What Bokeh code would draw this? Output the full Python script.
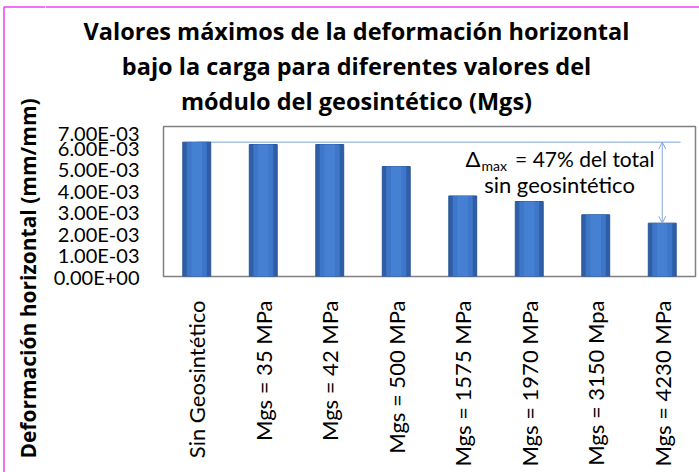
import math
from bokeh.plotting import figure
from bokeh.layouts import row, column
from bokeh.models import FactorRange, Range1d, FixedTicker, Label, Arrow, OpenHead
from bokeh.core.properties import value
from bokeh.embed import file_html
from bokeh.resources import INLINE

categories = ["Sin Geosintético", "Mgs = 35 MPa", "Mgs = 42 MPa", "Mgs = 500 MPa",
              "Mgs = 1575 MPa", "Mgs = 1970 MPa", "Mgs = 3150 Mpa", "Mgs = 4230 MPa"]
values = [6.27e-3, 6.16e-3, 6.16e-3, 5.13e-3, 3.76e-3, 3.50e-3, 2.88e-3, 2.49e-3]
y_ticks = [0.0, 0.001, 0.002, 0.003, 0.004, 0.005, 0.006, 0.007]
y_tick_labels = ["0.00E+00", "1.00E-03", "2.00E-03", "3.00E-03",
                 "4.00E-03", "5.00E-03", "6.00E-03", "7.00E-03"]
title_lines = ["Valores máximos de la deformación horizontal",
               "bajo la carga para diferentes valores del",
               "módulo del geosintético (Mgs)"]
y_title = "Deformación horizontal (mm/mm)"
note_line1 = "= 47% del total"
note_line2 = "sin geosintético"

FONT = "Lato"
BOLD_FONT = "Open Sans"
FRAME_COLOR = "#F040F0"
TOTAL_W, TOTAL_H = 699, 472
LEFT_W = 45          # width of the strip holding the y-axis title
TOP_H = 120          # height of the strip holding the chart title
# plot-area edges in page pixels
PL, PT, PR, PB = 163, 126, 695, 276
ymax = 0.007
n = len(categories)
SHIFT = 0.41         # empirical baseline correction (fraction of font size)

W = TOTAL_W - LEFT_W
H = TOTAL_H - TOP_H
FL, FT, FR, FB = PL - LEFT_W, PT - TOP_H, PR - LEFT_W, PB - TOP_H


def dx(px):  # page px -> data x
    return (px - PL) / (PR - PL) * n


def dy(py):  # page py -> data y
    return (PB - py) / (PB - PT) * ymax


# ---------------- main chart ----------------
p = figure(width=W, height=H, x_range=FactorRange(*categories), y_range=Range1d(0, ymax),
           title=None, output_backend="svg", toolbar_location=None,
           min_border_left=FL, min_border_right=W - FR, min_border_top=FT,
           min_border_bottom=H - FB, background_fill_color="white",
           border_fill_color="white")
p.frame_align = False
p.outline_line_color = "#808080"
p.outline_line_width = 1.5
p.xgrid.grid_line_color = None
p.ygrid.grid_line_color = None

# reference line at the unreinforced maximum
p.line(x=[0.5, dx(680)], y=[values[0], values[0]], line_color="#A9C2E6", line_width=1.5)

# bars (simple shading)
p.vbar(x=categories, top=values, width=0.42, fill_color="#2E5EA6", line_color="#2A5597", line_width=1)
p.vbar(x=categories, top=values, width=0.30, fill_color="#3E76C9", line_color=None)
p.vbar(x=categories, top=values, width=0.16, fill_color="#4680D2", line_color=None)

p.add_layout(Arrow(start=OpenHead(size=7, line_color="#86A9DA", line_width=1),
                   end=OpenHead(size=7, line_color="#86A9DA", line_width=1),
                   x_start=n - 0.5, y_start=values[-1], x_end=n - 0.5, y_end=values[0],
                   line_color="#86A9DA", line_width=1))

# axes
p.yaxis.ticker = FixedTicker(ticks=y_ticks)
p.yaxis.major_label_overrides = {t: s for t, s in zip(y_ticks, y_tick_labels)}
for ax in (p.xaxis[0], p.yaxis[0]):
    ax.axis_line_color = None
    ax.major_tick_line_color = None
    ax.minor_tick_line_color = None
    ax.major_tick_out = 0
    ax.major_tick_in = 0
    ax.major_label_text_font = FONT
    ax.major_label_text_color = "black"
    ax.major_label_standoff = 24
p.yaxis.major_label_text_font_size = "20px"
p.xaxis.major_label_text_font_size = "22px"
p.xaxis.major_label_orientation = math.pi / 2


def note(text, px, py, size, align):
    p.add_layout(Label(x=dx(px), y=dy(py - SHIFT * size), text=text, text_font=FONT,
                       text_font_size=f"{size}px", text_align=align,
                       text_baseline="alphabetic", text_color="black"))


# annotation text (page-pixel baselines)
note("Δ", 465, 167, 22, "left")
note("max", 481, 171, 14, "left")
note(note_line1, 654, 167, 21, "right")
note(note_line2, 559, 193, 22, "center")

# ---------------- title strip ----------------
TSIZE = 23.5
t = figure(width=W, height=TOP_H, x_range=Range1d(LEFT_W, TOTAL_W), y_range=Range1d(0, TOP_H),
           title=None, output_backend="svg", toolbar_location=None, x_axis_location=None,
           y_axis_location=None, min_border=0, outline_line_color=None,
           background_fill_color="white", border_fill_color="white")
t.frame_align = False
t.grid.visible = False
baselines = [40.5, 75, 110]
t.text(x=[356] * len(title_lines), y=[TOP_H - (b - SHIFT * TSIZE) for b in baselines],
       text=title_lines, text_font=value(BOLD_FONT), text_font_style="bold",
       text_font_size=f"{TSIZE}px", text_align="center", text_baseline="alphabetic",
       text_color="black")
# magenta frame edge (top)
t.line(x=[LEFT_W, TOTAL_W], y=[TOP_H - 6.5, TOP_H - 6.5], line_color=FRAME_COLOR, line_width=1.5)

# ---------------- y-title strip ----------------
YSIZE = 21
l = figure(width=LEFT_W, height=TOTAL_H, x_range=Range1d(0, LEFT_W), y_range=Range1d(0, TOTAL_H),
           title=None, output_backend="svg", toolbar_location=None, x_axis_location=None,
           y_axis_location=None, min_border=0, outline_line_color=None,
           background_fill_color="white", border_fill_color="white")
l.frame_align = False
l.grid.visible = False
l.text(x=[36 - SHIFT * YSIZE], y=[TOTAL_H - 278], text=[y_title], angle=math.pi / 2,
       text_font=value(BOLD_FONT), text_font_style="bold", text_font_size=f"{YSIZE}px",
       text_align="center", text_baseline="alphabetic", text_color="black")
# magenta frame edge (top-left corner and left side)
l.line(x=[LEFT_W, 3.5, 3.5], y=[TOTAL_H - 6.5, TOTAL_H - 6.5, 0],
       line_color=FRAME_COLOR, line_width=1.5)

layout = row(l, column(t, p, spacing=0), spacing=0)
open("out.html", "w").write(file_html(layout, INLINE))
